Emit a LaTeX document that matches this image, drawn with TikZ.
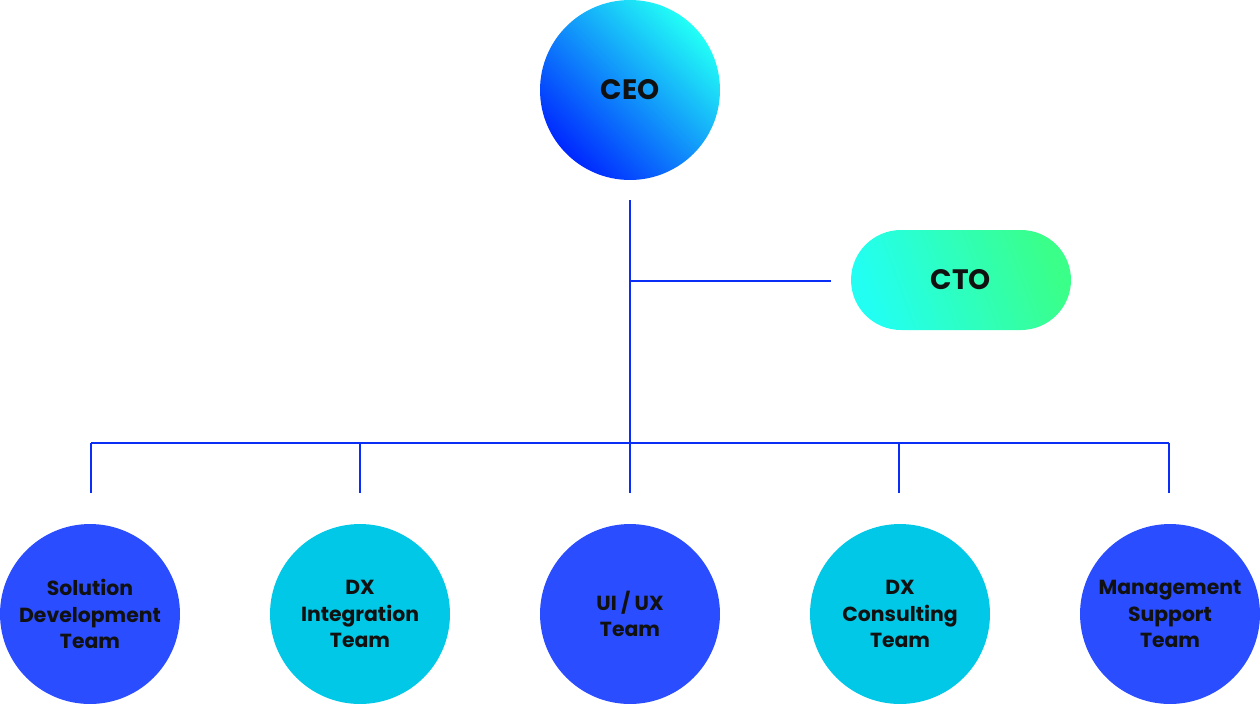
\documentclass[tikz,border=0pt]{standalone}
\usepackage{fontspec}
\setmainfont{Poppins}
\usetikzlibrary{shapes.misc}
\definecolor{lineblue}{HTML}{0A2EF5}
\definecolor{teamblue}{HTML}{2A4DFF}
\definecolor{teamcyan}{HTML}{00C8E6}
\definecolor{ceolow}{HTML}{0028FF}
\definecolor{ceomid}{HTML}{00B4FF}
\definecolor{ceohigh}{HTML}{22FFF6}
\definecolor{ctoleft}{HTML}{22FFF2}
\definecolor{ctoright}{HTML}{3AFF88}
\definecolor{labelink}{HTML}{111111}
\tikzset{
  team/.style={shape=circle, minimum size=3.6cm, inner sep=0pt, text=labelink,
    align=center, font=\fontsize{11.6}{15}\selectfont\bfseries},
  orgline/.style={-, draw=lineblue, line width=1.4pt}
}
\begin{document}
\begin{tikzpicture}[x=0.02cm, y=-0.02cm]
\useasboundingbox (0,0) rectangle (1260,704);
\node[shape=circle, minimum size=3.6cm, inner sep=0pt, left color=ceolow, middle color=ceomid, right color=ceohigh, shading angle=135, text=labelink, font=\fontsize{16}{18}\selectfont\bfseries] (CEO) at (630,90) {CEO};
\node[shape=rounded rectangle, minimum width=4.4cm, minimum height=2cm, inner sep=0pt, left color=ctoleft, right color=ctoright, shading angle=110, text=labelink, font=\fontsize{16}{18}\selectfont\bfseries] (CTO) at (961,280) {CTO};
\node[team, fill=teamblue] (SD) at (90,614) {Solution\\Development\\Team};
\node[team, fill=teamcyan] (DXI) at (360,614) {DX\\Integration\\Team};
\node[team, fill=teamblue] (UX) at (630,614) {UI / UX\\Team};
\node[team, fill=teamcyan] (DXC) at (900,614) {DX\\Consulting\\Team};
\node[team, fill=teamblue] (MS) at (1170,614) {Management\\Support\\Team};
\coordinate (top) at (630,200);
\coordinate (split) at (630,281);
\coordinate (stub) at (831,281);
\coordinate (b1) at (91,443);
\coordinate (b2) at (360,443);
\coordinate (b3) at (630,443);
\coordinate (b4) at (899,443);
\coordinate (b5) at (1169,443);
\coordinate (d1) at (91,493);
\coordinate (d2) at (360,493);
\coordinate (d3) at (630,493);
\coordinate (d4) at (899,493);
\coordinate (d5) at (1169,493);
\path [orgline] (top) edge (b3);
\path [orgline] (split) edge (stub);
\path [orgline] (b1) edge (b5);
\path [orgline] (b1) edge (d1);
\path [orgline] (b2) edge (d2);
\path [orgline] (b3) edge (d3);
\path [orgline] (b4) edge (d4);
\path [orgline] (b5) edge (d5);
\end{tikzpicture}
\end{document}
